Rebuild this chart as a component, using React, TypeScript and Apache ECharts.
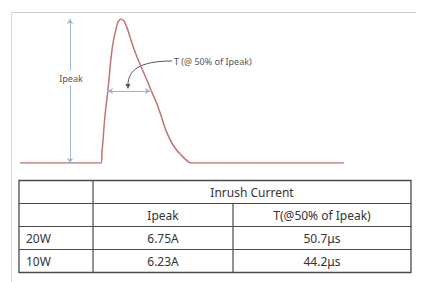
import React, { useEffect, useRef } from "react";
import * as echarts from "echarts";

// Waveform (time in arbitrary units, current normalised to Ipeak)
const timeAxis = [0, 81, 82, 83, 85, 88, 90, 92, 94, 96, 98, 101, 104, 107, 110, 113, 117, 122, 126, 131, 137, 141, 146, 153, 161, 171, 324];
const currentNorm = [0, 0, 0.076, 0.16, 0.33, 0.507, 0.66, 0.785, 0.868, 0.93, 0.979, 1, 0.985, 0.94, 0.875, 0.81, 0.736, 0.654, 0.59, 0.507, 0.41, 0.33, 0.225, 0.125, 0.056, 0, 0];

// Table contents
const headerGroup = "Inrush Current";
const columnHeaders = ["Ipeak", "T(@50% of Ipeak)"];
const rowLabels = ["20W", "10W"];
const ipeakValues = ["6.75A", "6.23A"];
const tValues = ["50.7μs", "44.2μs"];

const halfLeft = 88;
const halfRight = 130;
const peakT = 101;

export default function App() {
  const ref = useRef<HTMLDivElement>(null);
  useEffect(() => {
    document.body.style.margin = "0";
    const chart = echarts.init(ref.current!, null, { renderer: "svg" });
    const font = "Noto Sans";
    const tl = 19, tr = 411, tt = 180.5, tb = 272.5;
    const c1 = 93, c2 = 233;
    const rows = [180.5, 203.5, 226.5, 249.5, 272.5];
    const lineColor = "#4a4a4a";
    const graphics: any[] = [
      { type: "line", shape: { x1: 11, y1: 12.5, x2: 416, y2: 12.5 }, style: { stroke: "#cfcfcf", lineWidth: 1 } },
      { type: "line", shape: { x1: 11.5, y1: 12, x2: 11.5, y2: 282 }, style: { stroke: "#d8d8d8", lineWidth: 1 } },
      // curved pointer
      { type: "bezierCurve", shape: { x1: 172, y1: 61, cpx1: 140, cpy1: 61, cpx2: 128, cpy2: 70, x2: 128, y2: 85 }, style: { stroke: "#555", lineWidth: 1, fill: null } },
      { type: "polygon", shape: { points: [[125.5, 84], [130.5, 84], [128, 89]] }, style: { fill: "#555" } },
      { type: "text", x: 174, y: 61, style: { text: "T (@ 50% of Ipeak)", font: `9px '${font}'`, fill: "#555", verticalAlign: "middle" } },
      { type: "text", x: 71, y: 78, z: 100, style: { text: "Ipeak", font: `9px '${font}'`, fill: "#555", align: "center", verticalAlign: "middle", backgroundColor: "#fff", padding: [3, 1] } },
      // table
      { type: "rect", shape: { x: tl, y: tt, width: tr - tl, height: tb - tt }, style: { fill: "#fff", stroke: lineColor, lineWidth: 1.3 } },
      { type: "line", shape: { x1: c1, y1: tt, x2: c1, y2: tb }, style: { stroke: lineColor, lineWidth: 1.2 } },
      { type: "line", shape: { x1: c2, y1: rows[1], x2: c2, y2: tb }, style: { stroke: lineColor, lineWidth: 1.2 } },
    ];
    for (let i = 1; i < rows.length - 1; i++) {
      graphics.push({ type: "line", shape: { x1: tl, y1: rows[i], x2: tr, y2: rows[i] }, style: { stroke: lineColor, lineWidth: 1.2 } });
    }
    const txt = (t: string, x: number, y: number, align: string) => ({
      type: "text", x, y,
      style: { text: t, font: `12px '${font}'`, fill: "#333", align, verticalAlign: "middle" },
    });
    const mid = (a: number, b: number) => (a + b) / 2;
    graphics.push(txt(headerGroup, mid(c1, tr), mid(rows[0], rows[1]), "center"));
    graphics.push(txt(columnHeaders[0], mid(c1, c2), mid(rows[1], rows[2]), "center"));
    graphics.push(txt(columnHeaders[1], mid(c2, tr), mid(rows[1], rows[2]), "center"));
    rowLabels.forEach((r, i) => {
      const y = mid(rows[i + 2], rows[i + 3]);
      graphics.push(txt(r, 26, y, "left"));
      graphics.push(txt(ipeakValues[i], mid(c1, c2), y, "center"));
      graphics.push(txt(tValues[i], mid(c2, tr), y, "center"));
    });

    const blue = "#98b6da";
    chart.setOption({
      animation: false,
      grid: { left: 20, top: 19, width: 324, height: 144 },
      xAxis: { type: "value", min: 0, max: 324, show: false },
      yAxis: { type: "value", min: 0, max: 1, show: false },
      series: [
        {
          type: "line",
          data: timeAxis.map((t, i) => [t, currentNorm[i]]),
          smooth: 0.2,
          showSymbol: false,
          lineStyle: { color: "#c27474", width: 1.5 },
          markLine: {
            silent: true,
            label: { show: false },
            symbolSize: 5,
            data: [
              [
                { coord: [50, 1], symbol: "arrow", lineStyle: { color: blue, width: 1, type: "solid" } },
                { coord: [50, 0], symbol: "arrow" },
              ],
              [
                { coord: [halfLeft, 0.5], symbol: "arrow", lineStyle: { color: blue, width: 1, type: "solid" } },
                { coord: [halfRight, 0.5], symbol: "arrow" },
              ],
              [
                { coord: [40, 1.005], symbol: "none", lineStyle: { color: "#b8c8dc", width: 1, type: "solid" } },
                { coord: [peakT - 2, 1.005], symbol: "none" },
              ],
            ],
          },
        },
      ],
      graphic: graphics,
    });
    return () => chart.dispose();
  }, []);
  return <div ref={ref} style={{ width: 421, height: 282, background: "#fff" }} />;
}
